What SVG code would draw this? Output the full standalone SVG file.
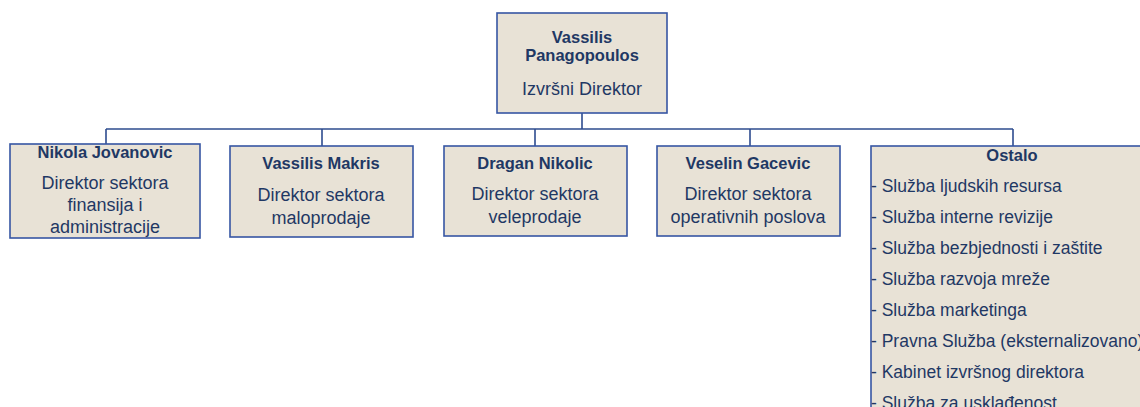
<svg xmlns="http://www.w3.org/2000/svg" width="1140" height="407" viewBox="0 0 1140 407">
<style>
.box{fill:#E8E2D6;stroke:#3656A3;stroke-width:1.6}
.conn{fill:none;stroke:#2E4C8F;stroke-width:1.6}
text{font-family:"Liberation Sans",Arial,sans-serif;fill:#1F3864}
.n{font-weight:bold;font-size:16.5px;text-anchor:middle}
.t{font-size:18px;text-anchor:middle}
.l{font-size:17.5px}
</style>
<rect width="1140" height="407" fill="#FFFFFF"/>
<g id="connectors">
<path class="conn" d="M582,113 V129 M106,129 H1013 M106,129 V144 M322,129 V146 M535,129 V146 M750,129 V146 M1013,129 V146"/>
</g>
<g id="ceo">
<rect class="box" x="497" y="13" width="170" height="100"/>
<text class="n" x="582" y="43">Vassilis</text>
<text class="n" x="582" y="61">Panagopoulos</text>
<text class="t" x="582" y="95">Izvršni Direktor</text>
</g>
<g id="jovanovic">
<rect class="box" x="10" y="144" width="190" height="94"/>
<text class="n" x="105" y="158">Nikola Jovanovic</text>
<text class="t" x="105" y="189">Direktor sektora</text>
<text class="t" x="105" y="211">finansija i</text>
<text class="t" x="105" y="233">administracije</text>
</g>
<g id="makris">
<rect class="box" x="230" y="146" width="183" height="91"/>
<text class="n" x="321" y="169">Vassilis Makris</text>
<text class="t" x="321" y="201">Direktor sektora</text>
<text class="t" x="321" y="224">maloprodaje</text>
</g>
<g id="nikolic">
<rect class="box" x="444" y="146" width="183" height="90"/>
<text class="n" x="535" y="169">Dragan Nikolic</text>
<text class="t" x="535" y="200">Direktor sektora</text>
<text class="t" x="535" y="223">veleprodaje</text>
</g>
<g id="gacevic">
<rect class="box" x="657" y="146" width="183" height="90"/>
<text class="n" x="748" y="169">Veselin Gacevic</text>
<text class="t" x="748" y="200">Direktor sektora</text>
<text class="t" x="748" y="223">operativnih poslova</text>
</g>
<g id="ostalo">
<rect class="box" x="871" y="146" width="290" height="280"/>
<text class="n" x="1012" y="161">Ostalo</text>
<text class="l" x="871" y="192">- Služba ljudskih resursa</text>
<text class="l" x="871" y="223">- Služba interne revizije</text>
<text class="l" x="871" y="254">- Služba bezbjednosti i zaštite</text>
<text class="l" x="871" y="285">- Služba razvoja mreže</text>
<text class="l" x="871" y="316">- Služba marketinga</text>
<text class="l" x="871" y="347">- Pravna Služba (eksternalizovano)</text>
<text class="l" x="871" y="378">- Kabinet izvršnog direktora</text>
<text class="l" x="871" y="409">- Služba za usklađenost</text>
</g>
</svg>
